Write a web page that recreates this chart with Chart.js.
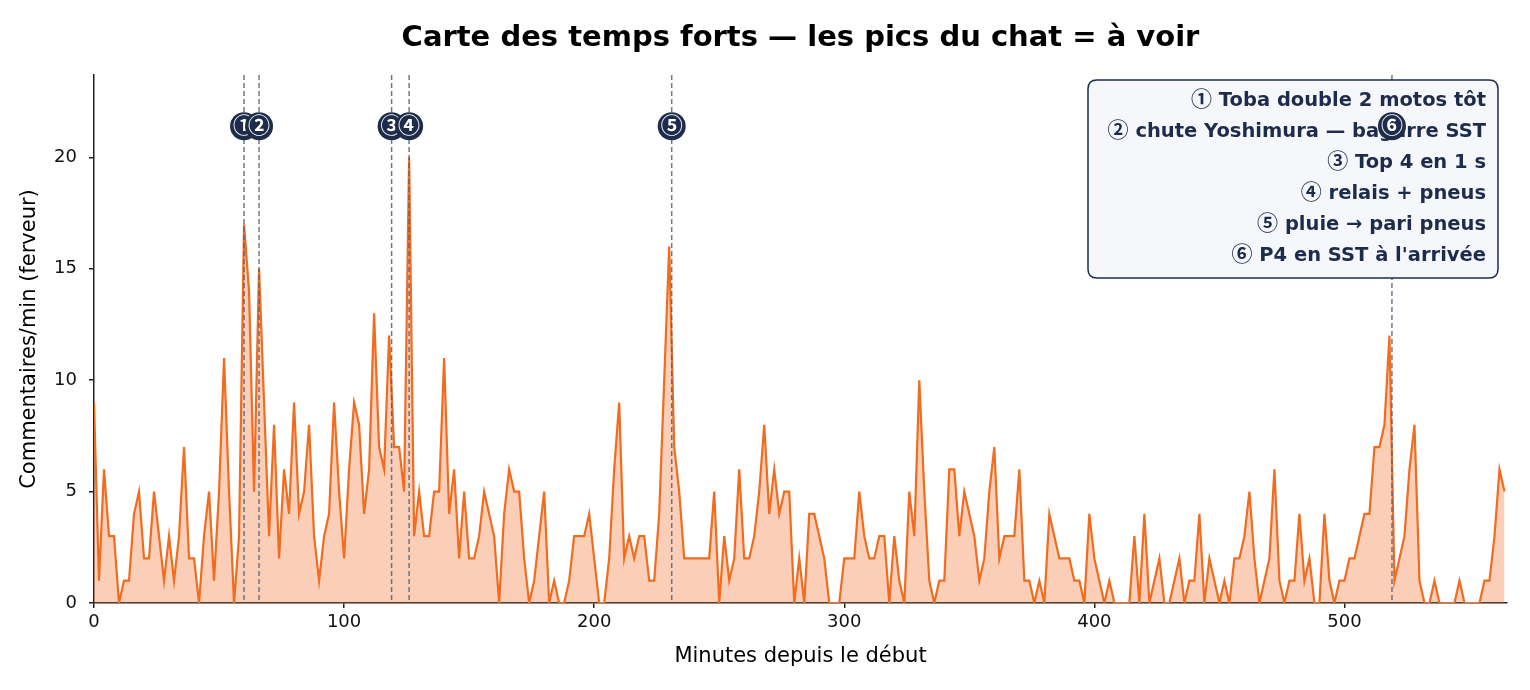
<!DOCTYPE html>
<html>
<head>
<meta charset="utf-8">
<script src="https://cdn.jsdelivr.net/npm/chart.js@4/dist/chart.umd.min.js"></script>
<style>
  html, body { margin: 0; padding: 0; background: #fff; }
  canvas { display: block; }
</style>
</head>
<body>
<canvas id="chat" width="1530" height="690"></canvas>
<script>
// comments per minute, one sample every 2 minutes from minute 0
var stepMin = 2;
var commentsPerMin = [
  9,1,6,3,3,0,1,1,4,5,2,2,5,3,1,3,1,3,7,2,2,0,3,5,1,5,11,5,0,3,17,14,5,15,
  9,3,8,2,6,4,9,4,5,8,3,1,3,4,9,5,2,6,9,8,4,6,13,7,6,12,7,7,5,20,3,5,
  3,3,5,5,11,4,6,2,5,2,2,3,5,4,3,0,4,6,5,5,2,0,1,3,5,0,1,0,0,1,3,3,
  3,4,2,0,0,2,6,9,2,3,2,3,3,1,1,4,10,16,7,5,2,2,2,2,2,2,5,0,3,1,2,6,
  2,2,3,5,8,4,6,4,5,5,0,2,0,4,4,3,2,0,0,0,2,2,2,5,3,2,2,3,3,0,3,1,
  0,5,3,10,5,1,0,1,1,6,6,3,5,4,3,1,2,5,7,2,3,3,3,6,1,1,0,1,0,4,3,2,
  2,2,1,1,0,4,2,1,0,1,0,0,0,0,3,0,4,0,1,2,0,0,1,2,0,1,1,4,0,2,1,0,
  1,0,2,2,3,5,2,0,1,2,6,1,0,1,1,4,1,2,0,0,4,1,0,1,1,2,2,3,4,4,7,7,
  8,12,1,2,3,6,8,1,0,0,1,0,0,0,0,1,0,0,0,0,1,1,3,6,5
];

// highlighted moments
var eventMinutes = [60, 66, 119, 126, 231, 519];
var eventMarks = ['①', '②', '③', '④', '⑤', '⑥'];
var eventTexts = [
  'Toba double 2 motos tôt',
  'chute Yoshimura — bagarre SST',
  'Top 4 en 1 s',
  'relais + pneus',
  'pluie → pari pneus',
  "P4 en SST à l'arrivée"
];
var markerLevel = 21.4;

var chartTitle = 'Carte des temps forts — les pics du chat = à voir';
var xTitle = 'Minutes depuis le début';
var yTitle = 'Commentaires/min (ferveur)';

var FONT = '"DejaVu Sans", "Noto Sans CJK JP", sans-serif';
var MARKFONT = '"Noto Sans CJK JP", "DejaVu Sans", sans-serif';
var NAVY = '#1e2c4c';
var ORANGE = '#f26b1f';

var points = [];
for (var i = 0; i < commentsPerMin.length; i++) {
  points.push({x: i * stepMin, y: commentsPerMin[i]});
}

function roundRect(ctx, x, y, w, h, r) {
  ctx.beginPath();
  ctx.moveTo(x + r, y);
  ctx.lineTo(x + w - r, y);
  ctx.quadraticCurveTo(x + w, y, x + w, y + r);
  ctx.lineTo(x + w, y + h - r);
  ctx.quadraticCurveTo(x + w, y + h, x + w - r, y + h);
  ctx.lineTo(x + r, y + h);
  ctx.quadraticCurveTo(x, y + h, x, y + h - r);
  ctx.lineTo(x, y + r);
  ctx.quadraticCurveTo(x, y, x + r, y);
  ctx.closePath();
}

var overlay = {
  id: 'overlay',
  afterDatasetsDraw: function(chart) {
    var ctx = chart.ctx;
    var xs = chart.scales.x, ys = chart.scales.y;
    var area = chart.chartArea;

    // dashed event lines
    ctx.save();
    ctx.strokeStyle = 'rgba(85,97,122,0.85)';
    ctx.lineWidth = 1.5;
    ctx.setLineDash([5, 3]);
    eventMinutes.forEach(function(m) {
      var px = xs.getPixelForValue(m);
      ctx.beginPath();
      ctx.moveTo(px, area.top);
      ctx.lineTo(px, area.bottom);
      ctx.stroke();
    });
    ctx.restore();

    // legend box
    ctx.save();
    roundRect(ctx, 1088, 80, 410, 198, 9);
    ctx.fillStyle = '#f5f7fb';
    ctx.fill();
    ctx.strokeStyle = NAVY;
    ctx.lineWidth = 1.5;
    ctx.stroke();
    ctx.fillStyle = NAVY;
    ctx.textAlign = 'right';
    ctx.textBaseline = 'middle';
    for (var k = 0; k < eventTexts.length; k++) {
      var ty = 101 + k * 31;
      ctx.font = 'bold 19.5px ' + FONT;
      var txt = ' ' + eventTexts[k];
      var w = ctx.measureText(txt).width;
      ctx.fillText(txt, 1486, ty);
      ctx.font = 'bold 21px ' + MARKFONT;
      ctx.fillText(eventMarks[k], 1486 - w, ty - 3);
    }
    ctx.restore();

    // circled markers
    ctx.save();
    var py = ys.getPixelForValue(markerLevel);
    eventMinutes.forEach(function(m, k) {
      var px = xs.getPixelForValue(m);
      ctx.beginPath();
      ctx.arc(px, py, 14, 0, Math.PI * 2);
      ctx.fillStyle = NAVY;
      ctx.fill();
      ctx.fillStyle = '#fff';
      ctx.font = 'bold 22px ' + MARKFONT;
      ctx.textAlign = 'center';
      ctx.textBaseline = 'middle';
      ctx.fillText(eventMarks[k], px, py - 2);
    });
    ctx.restore();
  },
  afterDraw: function(chart) {
    var ctx = chart.ctx;
    var area = chart.chartArea;
    var cx = (area.left + area.right) / 2;
    ctx.save();
    ctx.fillStyle = '#000';
    ctx.textAlign = 'center';
    ctx.textBaseline = 'middle';
    ctx.font = 'bold 29px ' + FONT;
    ctx.fillText(chartTitle, cx, 38);
    ctx.font = '21px ' + FONT;
    ctx.fillText(xTitle, cx, 657);
    ctx.translate(30, (area.top + area.bottom) / 2);
    ctx.rotate(-Math.PI / 2);
    ctx.fillText(yTitle, 0, 0);
    ctx.restore();
  }
};

new Chart(document.getElementById('chat'), {
  type: 'line',
  data: {
    datasets: [{
      data: points,
      borderColor: ORANGE,
      backgroundColor: 'rgba(242,107,31,0.32)',
      borderWidth: 2.2,
      fill: 'origin',
      pointRadius: 0,
      tension: 0
    }]
  },
  options: {
    responsive: false,
    animation: false,
    devicePixelRatio: 1,
    layout: { padding: { top: 75, right: 23, left: 0, bottom: 0 } },
    plugins: { legend: { display: false }, title: { display: false }, tooltip: { enabled: false } },
    scales: {
      x: {
        type: 'linear',
        min: 0,
        max: 565,
        afterFit: function(s) { s.height = 87; },
        border: { color: '#222', width: 1.5 },
        grid: { drawOnChartArea: false, drawTicks: true, tickLength: 5, color: '#222', lineWidth: 1.5 },
        ticks: { stepSize: 100, includeBounds: false, color: '#111', padding: 4, maxRotation: 0,
                 font: { family: FONT, size: 18 } }
      },
      y: {
        min: 0,
        max: 23.7,
        afterFit: function(s) { s.width = 94; },
        border: { color: '#222', width: 1.5 },
        grid: { drawOnChartArea: false, drawTicks: true, tickLength: 5, color: '#222', lineWidth: 1.5 },
        ticks: { stepSize: 5, includeBounds: false, color: '#111', padding: 12,
                 font: { family: FONT, size: 18 } }
      }
    }
  },
  plugins: [overlay]
});
</script>
</body>
</html>
